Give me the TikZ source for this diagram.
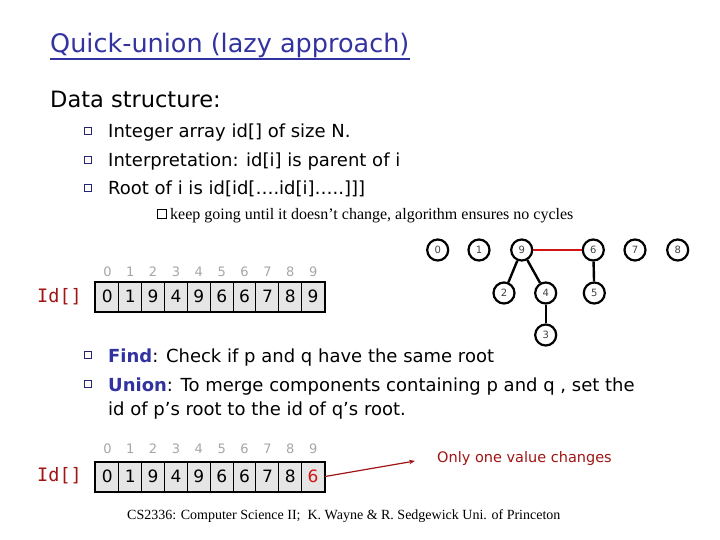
\documentclass[tikz,border=0pt]{standalone}
\usepackage{fontspec}
\setmainfont{DejaVu Sans}
\newfontfamily\notefont{Liberation Serif}
\newfontfamily\labelfont{DejaVu Sans Mono}
\usepackage{xcolor}
\usetikzlibrary{positioning, arrows.meta}
\definecolor{titleblue}{RGB}{51,51,160}
\definecolor{idred}{RGB}{160,20,20}
\definecolor{linkred}{RGB}{210,20,20}
\tikzset{
  treenode/.style={draw, circle, line width=2.2pt, minimum size=21pt,
    inner sep=0pt, font=\fontsize{10}{10}\selectfont, text=black!75},
  treeedge/.style={line width=2.4pt},
  cell/.style={draw, line width=1pt, fill=black!10, minimum width=22.86pt,
    minimum height=29pt, inner sep=0pt, font=\fontsize{17}{17}\selectfont},
  index/.style={text=black!35, inner sep=0pt, font=\fontsize{13}{13}\selectfont},
  bulletbox/.style={draw=titleblue!70!black, line width=0.7pt, fill=white,
    minimum size=7.5pt, inner sep=0pt},
  item/.style={anchor=base west, inner sep=0pt, font=\fontsize{18}{18}\selectfont},
  arraylabel/.style={anchor=east, inner sep=0pt, text=idred,
    font=\labelfont\fontsize{18.5}{18.5}\selectfont},
}

\begin{document}
\begin{tikzpicture}[x=1pt,y=-1pt]
\useasboundingbox (0,0) rectangle (720,540);

\node[anchor=base west, inner sep=0pt, text=titleblue,
  font=\fontsize{25.5}{25.5}\selectfont] (title) at (50,53) {Quick-union (lazy approach)};
\draw[titleblue, line width=1.8pt] ([yshift=-6pt]title.base west) -- ([yshift=-6pt]title.base east);

\node[item, font=\fontsize{22.5}{22.5}\selectfont] (data) at (50,108) {Data structure:};

\node[bulletbox] (b1) at (88,131) {};
\node[item] (t1) at (108,138) {Integer array id[] of size N.};
\node[bulletbox] (b2) at (88,160) {};
\node[item] (t2) at (108,167) {Interpretation: id[i] is parent of i};
\node[bulletbox] (b3) at (88,188) {};
\node[item] (t3) at (108,195) {Root of i is id[id[….id[i]…..]]]};

\node[draw, line width=0.6pt, minimum size=9pt, inner sep=0pt] (b4) at (162,214) {};
\node[anchor=base west, inner sep=0pt, font=\notefont\fontsize{16}{16}\selectfont]
  (t4) at (170,219.5) {keep going until it doesn’t change, algorithm ensures no cycles};

% first array
\node[arraylabel] (id1) at (82,297) {Id[]};
\foreach \v [count=\i from 0] in {0,1,9,4,9,6,6,7,8,9} {
  \node[cell] (a\i) at (107.4+22.86*\i,296.5) {\v};
  \node[index] (ia\i) at (107.4+22.86*\i,272) {\i};
}
\draw[line width=2pt] (a0.north west) rectangle (a9.south east);

% forest
\node[treenode] (n0) at (437.7,250) {0};
\node[treenode] (n1) at (479,250) {1};
\node[treenode] (n9) at (521.7,250) {9};
\node[treenode] (n6) at (593.3,250) {6};
\node[treenode] (n7) at (635,250) {7};
\node[treenode] (n8) at (677.7,250) {8};
\node[treenode] (n2) at (504,293) {2};
\node[treenode] (n4) at (545.7,293) {4};
\node[treenode] (n5) at (594.3,293) {5};
\node[treenode] (n3) at (545.7,335) {3};
\draw[treeedge] (n9) -- (n2);
\draw[treeedge] (n9) -- (n4);
\draw[treeedge] (n4) -- (n3);
\draw[treeedge] (n6) -- (n5);
\draw[treeedge, linkred] (n9) -- (n6);

\node[bulletbox] (b5) at (88,355) {};
\node[item] (t5) at (108,362) {\textcolor{titleblue}{\textbf{Find}}: Check if p and q have the same root};
\node[bulletbox] (b6) at (88,384) {};
\node[item] (t6) at (108,391) {\textcolor{titleblue}{\textbf{Union}}: To merge components containing p and q , set the};
\node[item] (t7) at (108,415) {id of p’s root to the id of q’s root.};

% second array
\node[arraylabel] (id2) at (82,476) {Id[]};
\foreach \v [count=\i from 0] in {0,1,9,4,9,6,6,7,8} {
  \node[cell] (c\i) at (107.4+22.86*\i,476.5) {\v};
}
\node[cell, text=linkred] (c9) at (313.14,476.5) {6};
\foreach \i in {0,...,9}
  \node[index] (ic\i) at (107.4+22.86*\i,449) {\i};
\draw[line width=2pt] (c0.north west) rectangle (c9.south east);

\coordinate (tip) at (415,461);
\draw[idred, line width=1.2pt, -{Stealth[length=6pt]}] (c9.east) -- (tip);
\node[anchor=west, inner sep=0pt, text=idred, font=\fontsize{14.5}{14.5}\selectfont]
  (note) at (437,458) {Only one value changes};

\node[anchor=west, inner sep=0pt, font=\notefont\fontsize{14}{14}\selectfont]
  (foot) at (127,516) {CS2336: Computer Science II;\ \ K. Wayne \& R. Sedgewick Uni. of Princeton};
\end{tikzpicture}
\end{document}
